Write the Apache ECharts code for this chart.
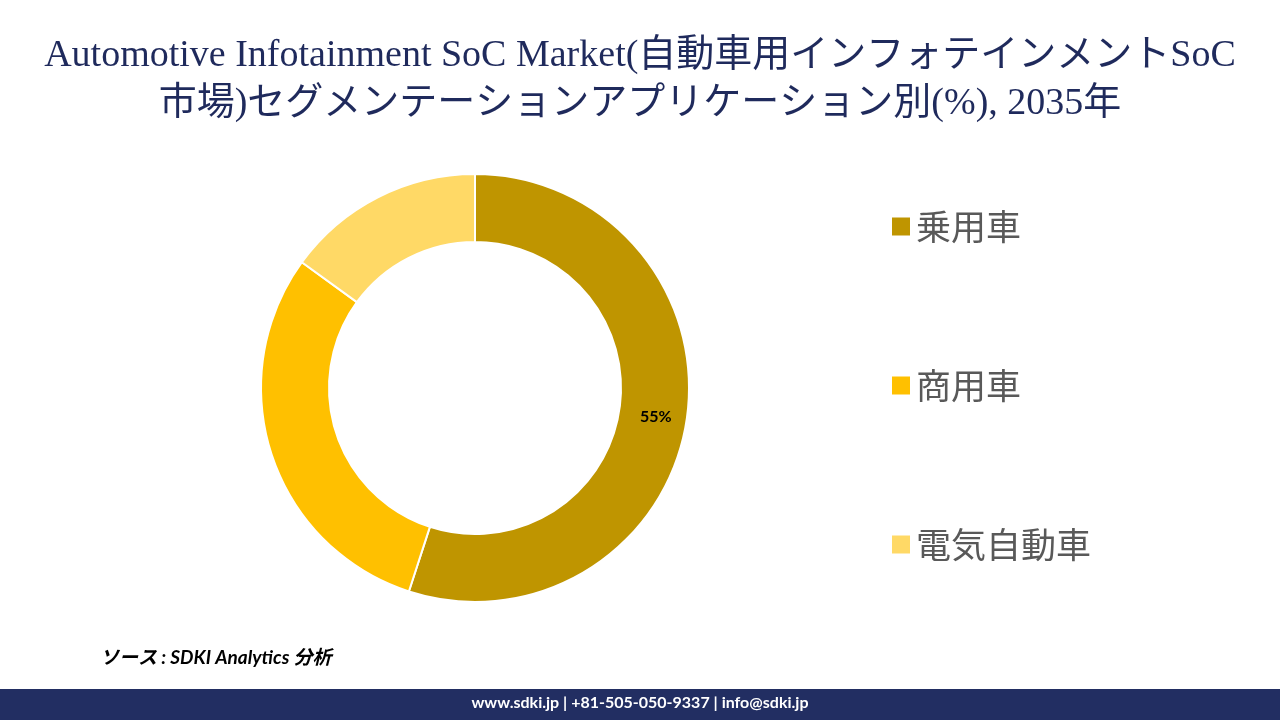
<!DOCTYPE html>
<html><head><meta charset="utf-8">
<script src="https://cdn.jsdelivr.net/npm/echarts@6/dist/echarts.min.js"></script>
<style>body{margin:0}#c{width:1280px;height:720px}</style></head>
<body><div id="c"></div>
<script>
const categories = ['乗用車','商用車','電気自動車'];
const values = [55,30,15];
const colors = ['#BF9500','#FFC000','#FFD966'];
const chart = echarts.init(document.getElementById('c'));
chart.setOption({
  backgroundColor:'#fff',
  title:{text:'Automotive Infotainment SoC Market(自動車用インフォテインメントSoC\n市場)セグメンテーションアプリケーション別(%), 2035年',
    left:'center',top:27,textStyle:{fontFamily:'Liberation Serif, Noto Sans CJK JP',fontSize:38,fontWeight:'normal',color:'#1F2A5C',lineHeight:48}},
  legend:{orient:'vertical',left:885,top:204,itemGap:124,itemWidth:20,itemHeight:20,icon:'rect',
    textStyle:{fontSize:35,color:'#595959',fontFamily:'Noto Sans CJK JP'},data:categories},
  graphic:[
    {type:'text',left:100,top:648,style:{text:'ソース : SDKI Analytics 分析',fontSize:19,fontStyle:'italic',fontWeight:'bold',fill:'#000',fontFamily:'Lato, Noto Sans CJK JP'}},
    {type:'rect',left:0,top:689,shape:{width:1280,height:31},style:{fill:'#222E62'}},
    {type:'text',left:'center',top:695,style:{text:'www.sdki.jp | +81-505-050-9337 | info@sdki.jp',fontSize:16,fontWeight:'bold',fill:'#fff',fontFamily:'Lato'}}
  ],
  series:[{type:'pie',center:[475,388],radius:[146,214],startAngle:90,clockwise:true,
    itemStyle:{borderColor:'#fff',borderWidth:2},
    label:{show:true,position:'inside',formatter:p=>p.dataIndex===0?p.value+'%':'',fontSize:16,fontWeight:'bold',color:'#000',fontFamily:'Lato'},
    labelLine:{show:false},
    data:categories.map((n,i)=>({name:n,value:values[i],itemStyle:{color:colors[i]}}))}]
});
</script></body></html>
